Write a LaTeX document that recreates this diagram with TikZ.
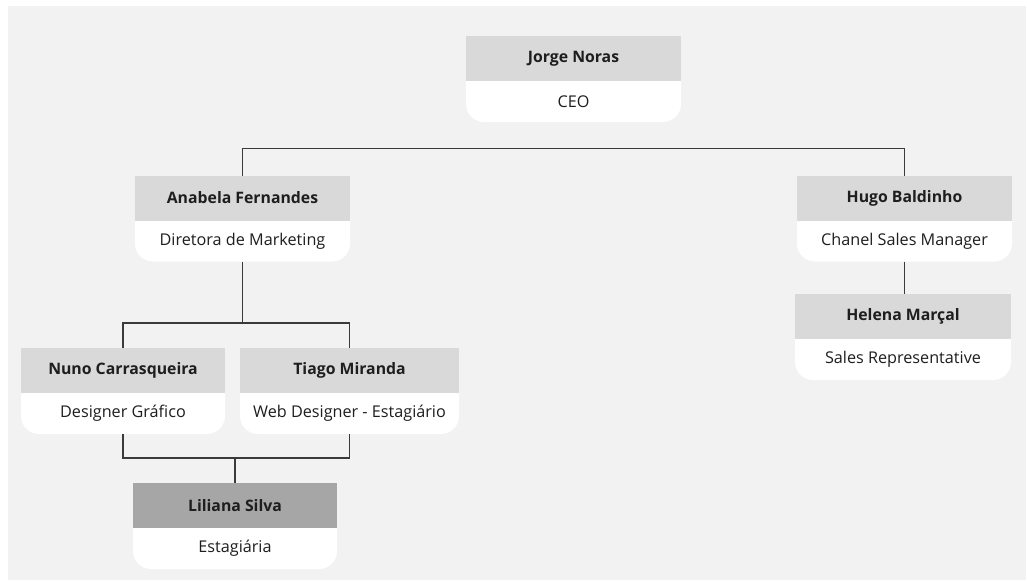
\documentclass[tikz,border=0pt]{standalone}
\usepackage{fontspec}
\setmainfont{Open Sans}
\usepackage{tikz}
\usetikzlibrary{positioning,backgrounds}
\definecolor{panelgray}{HTML}{F2F2F2}
\definecolor{headgray}{HTML}{D9D9D9}
\definecolor{interngray}{HTML}{A6A6A6}
\definecolor{linegray}{HTML}{3A3A3A}
\definecolor{textgray}{HTML}{1E1E1E}

\begin{document}
\begin{tikzpicture}[x=1pt,y=-1pt,node distance=0pt,
	name node/.style={rectangle,fill=headgray,inner sep=0pt,outer sep=0pt,text=textgray,
		minimum height=45pt,font=\fontsize{15.8}{18}\selectfont\bfseries},
	role node/.style={rectangle,inner sep=0pt,outer sep=0pt,text=textgray,
		minimum height=41pt,font=\fontsize{16.2}{18}\selectfont},
	link/.style={draw=linegray,line width=1.3pt}]
	
	\useasboundingbox (0,0) rectangle (1027,581);
	
	\node[name node,minimum width=215pt] (jorge) at (573.5,58.5) {Jorge Noras};
	\node[role node,minimum width=215pt,below=of jorge] (ceo) {CEO};
	
	\node[name node,minimum width=215pt] (anabela) at (242.5,198) {Anabela Fernandes};
	\node[role node,minimum width=215pt,below=of anabela] (dirmkt) {Diretora de Marketing};
	
	\node[name node,minimum width=215pt] (hugo) at (904.5,198) {Hugo Baldinho};
	\node[role node,minimum width=215pt,below=of hugo] (chanel) {Chanel Sales Manager};
	
	\node[name node,minimum width=216pt] (helena) at (903,316.5) {Helena Marçal};
	\node[role node,minimum width=216pt,below=of helena] (salesrep) {Sales Representative};
	
	\node[name node,minimum width=204pt] (nuno) at (123,370.5) {Nuno Carrasqueira};
	\node[role node,minimum width=204pt,below=of nuno] (designer) {Designer Gráfico};
	
	\node[name node,minimum width=219pt] (tiago) at (349.5,370.5) {Tiago Miranda};
	\node[role node,minimum width=219pt,below=of tiago] (webdes) {Web Designer - Estagiário};
	
	\node[name node,fill=interngray,minimum width=204pt] (liliana) at (235,505.5) {Liliana Silva};
	\node[role node,minimum width=204pt,below=of liliana] (intern) {Estagiária};
	
	% panel and white role cards
	\begin{scope}[on background layer]
		\fill[panelgray] (8,6) rectangle (1026,580);
		\foreach \r in {ceo,dirmkt,chanel,salesrep,designer,webdes,intern}
			\fill[white,rounded corners=18pt] ([yshift=20pt]\r.north west) rectangle (\r.south east);
	\end{scope}
	
	% links
	\coordinate (ceobus) at ([yshift=27pt]anabela.north);
	\coordinate (mktbus) at ([yshift=25pt]nuno.north);
	\coordinate (intbus) at ([yshift=-24pt]designer.south);
	
	\draw[link] (anabela.north) -- (ceobus) -| (hugo.north);
	\draw[link] (dirmkt.south) -- (dirmkt.south |- mktbus);
	\draw[link] (nuno.north) -- (mktbus) -| (tiago.north);
	\draw[link] (designer.south) -- (intbus) -| (webdes.south);
	\draw[link] (liliana.north) -- (liliana.north |- intbus);
	\draw[link] (chanel.south) -- (chanel.south |- helena.north);
\end{tikzpicture}
\end{document}
